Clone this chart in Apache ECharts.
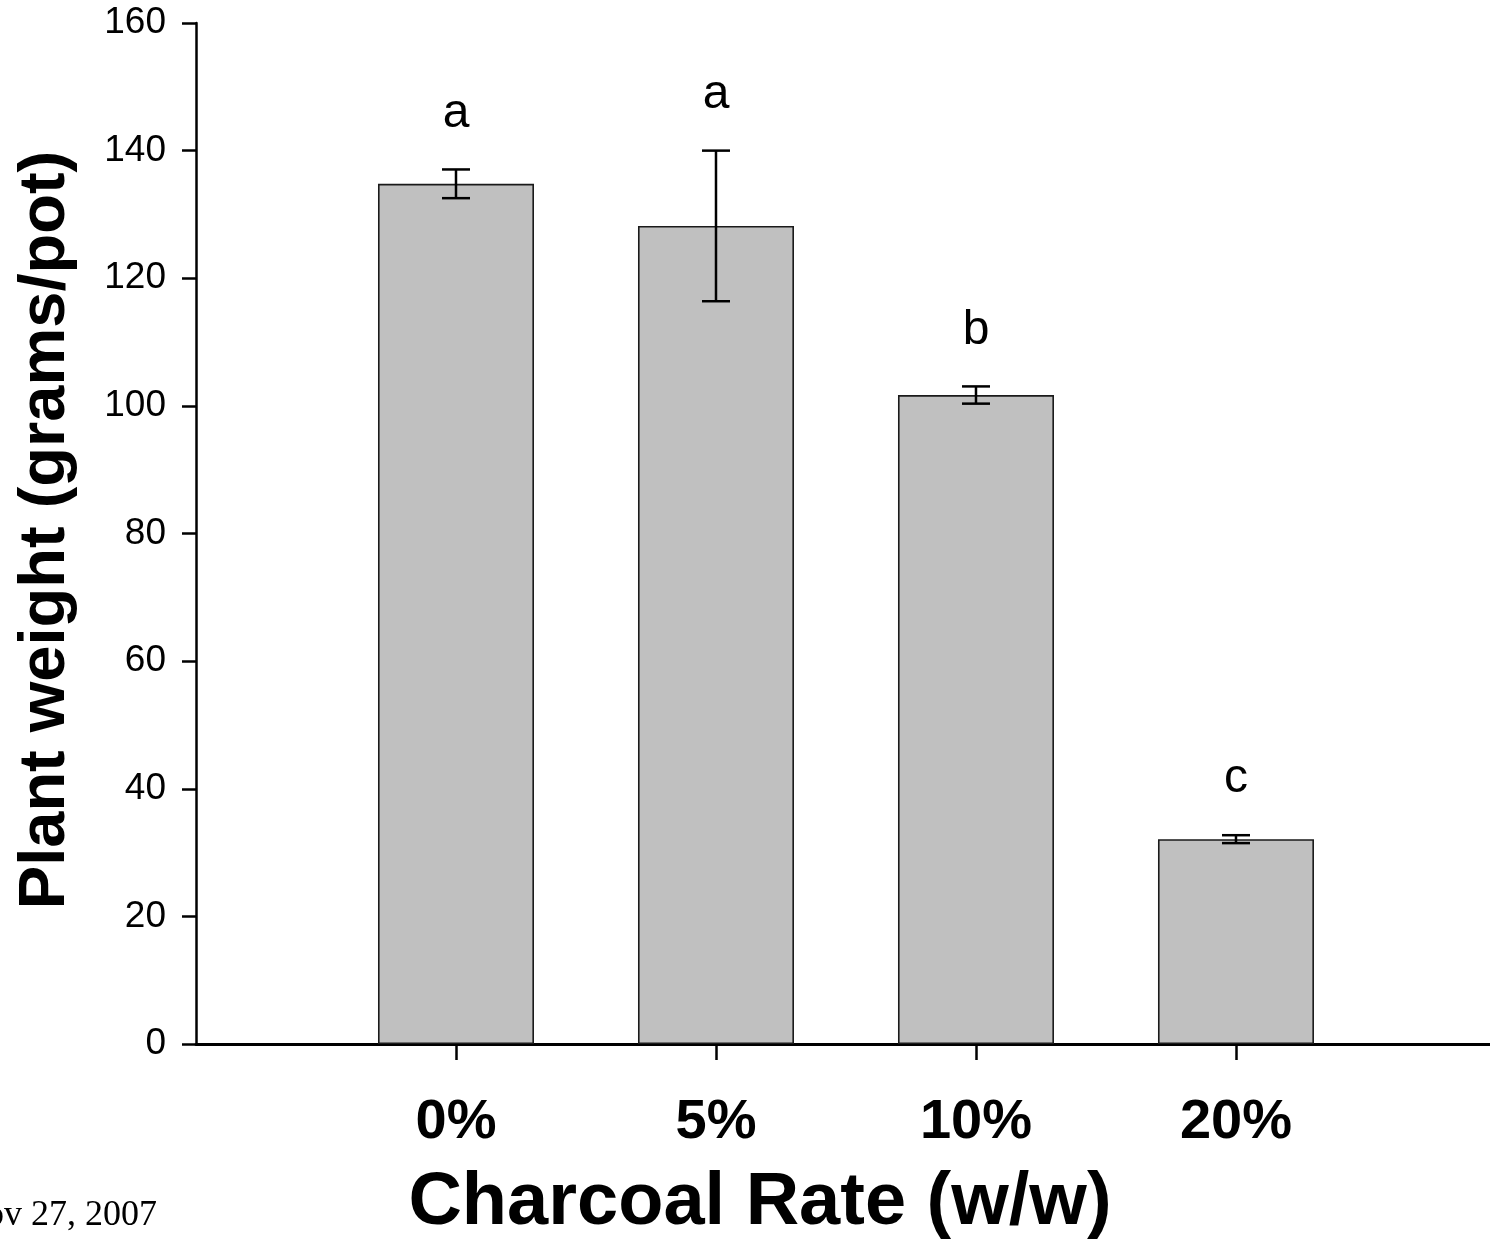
<!DOCTYPE html>
<html><head><meta charset="utf-8">
<script src="https://cdn.jsdelivr.net/npm/echarts@6/dist/echarts.min.js"></script>
<style>html,body{margin:0;padding:0;background:#fff}#c{width:1490px;height:1243px}</style>
</head><body><div id="c"></div>
<script>
// ---- data ----
const categories = ['0%', '5%', '10%', '20%'];
const means = [134.8, 128.2, 101.7, 32.1];
const stdErrors = [2.25, 11.8, 1.35, 0.62];
const letters = ['a', 'a', 'b', 'c'];
const yMin = 0, yMax = 160, yStep = 20;
const xTitle = 'Charcoal Rate (w/w)';
const yTitle = 'Plant weight (grams/pot)';
const dateNote = 'Nov 27, 2007';

const xPositions = categories.map((c, i) => i + 1);
const FONT = "'Liberation Sans', Arial, Helvetica, sans-serif";

const chart = echarts.init(document.getElementById('c'), null, {renderer: 'canvas'});
chart.setOption({
  animation: false,
  backgroundColor: '#fff',
  grid: {left: 196, top: 23, right: 0, height: 1021},
  xAxis: {
    type: 'value', min: 0, max: 4.977,
    axisLine: {show: true, lineStyle: {color: '#000', width: 3}},
    axisTick: {show: true, customValues: xPositions, length: 16, lineStyle: {color: '#000', width: 2.5}},
    axisLabel: {customValues: xPositions, formatter: v => categories[Math.round(v) - 1] || '',
      fontSize: 56, fontWeight: 'bold', color: '#000', fontFamily: FONT, margin: 51},
    splitLine: {show: false}
  },
  yAxis: {
    type: 'value', min: yMin, max: yMax, interval: yStep,
    axisLine: {show: true, lineStyle: {color: '#000', width: 2.5}},
    axisTick: {show: true, length: 14, lineStyle: {color: '#000', width: 2.5}},
    axisLabel: {fontSize: 37, color: '#000', fontFamily: FONT, margin: 30},
    splitLine: {show: false}
  },
  series: [
    {
      type: 'bar',
      data: means.map((m, i) => [xPositions[i], m]),
      barWidth: 156,
      itemStyle: {color: '#c0c0c0', borderColor: '#1a1a1a', borderWidth: 1.6}
    },
    {
      type: 'custom',
      data: means.map((m, i) => [xPositions[i], m - stdErrors[i], m + stdErrors[i]]),
      z: 5,
      renderItem: (params, api) => {
        const x = api.value(0);
        const lo = api.coord([x, api.value(1)]);
        const hi = api.coord([x, api.value(2)]);
        const cap = 14;
        const st = {stroke: '#000', lineWidth: 2.5};
        return {type: 'group', children: [
          {type: 'line', shape: {x1: lo[0], y1: lo[1], x2: hi[0], y2: hi[1]}, style: st},
          {type: 'line', shape: {x1: lo[0] - cap, y1: lo[1], x2: lo[0] + cap, y2: lo[1]}, style: st},
          {type: 'line', shape: {x1: hi[0] - cap, y1: hi[1], x2: hi[0] + cap, y2: hi[1]}, style: st},
          {type: 'text', x: hi[0], y: hi[1] - 56, style: {text: letters[params.dataIndex],
            fontSize: 48, fontFamily: FONT, fill: '#000', align: 'center', verticalAlign: 'middle'}}
        ]};
      }
    }
  ],
  graphic: [
    {type: 'text', x: 46, y: 530, rotation: Math.PI / 2,
      style: {text: yTitle, fontSize: 65, fontWeight: 'bold', fontFamily: FONT, fill: '#000', align: 'center', verticalAlign: 'middle'}},
    {type: 'text', x: 760, y: 1204,
      style: {text: xTitle, fontSize: 74, fontWeight: 'bold', fontFamily: FONT, fill: '#000', align: 'center', verticalAlign: 'middle'}},
    {type: 'text', x: -40, y: 1216,
      style: {text: dateNote, fontSize: 36, fontFamily: "'Liberation Serif', 'Times New Roman', serif", fill: '#000', align: 'left', verticalAlign: 'middle'}}
  ]
});
</script>
</body></html>
